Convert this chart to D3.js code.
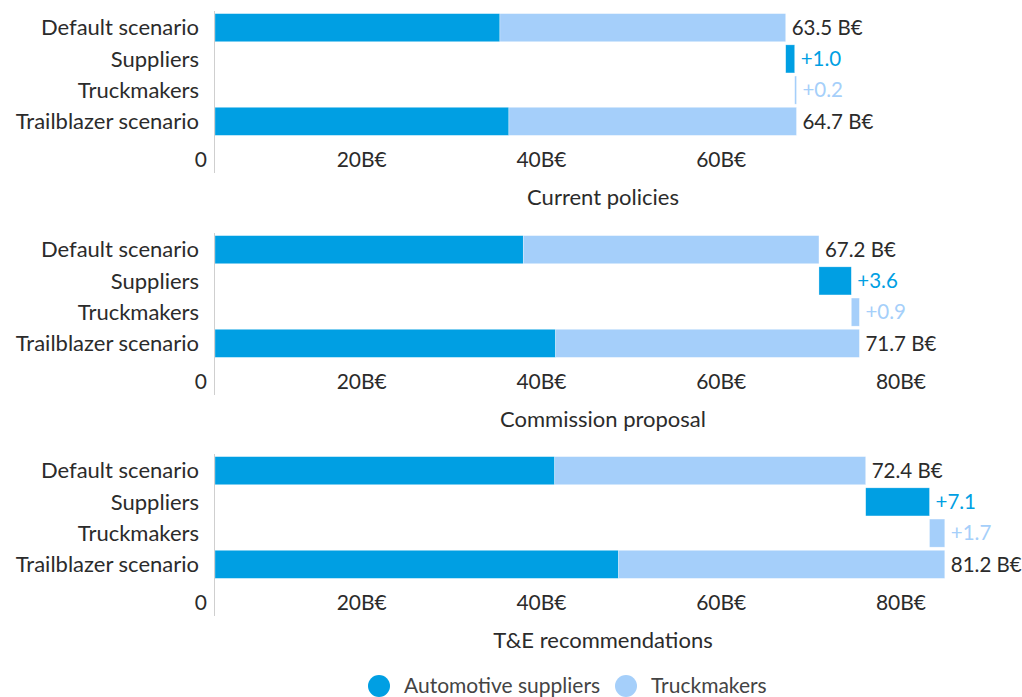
<!DOCTYPE html>
<html>
<head>
<meta charset="utf-8">
<script src="https://cdn.jsdelivr.net/npm/d3@7"></script>
<style>
  body { margin: 0; background: #fff; }
  svg text { font-family: "Lato", "Noto Sans", sans-serif; }
</style>
</head>
<body>
<div id="chart"></div>
<script>
// scenario data, billions of euro
var panels = ["Current policies", "Commission proposal", "T&E recommendations"];
var rows = ["Default scenario", "Suppliers", "Truckmakers", "Trailblazer scenario"];
var defaultAuto = [31.7, 34.3, 37.8];
var defaultTrucks = [31.8, 32.9, 34.6];
var supplierDelta = [1.0, 3.6, 7.1];
var truckDelta = [0.2, 0.9, 1.7];
var ticks = [0, 20, 40, 60, 80];
var tickMax = [60, 80, 80];
var seriesNames = ["Automotive suppliers", "Truckmakers"];

var dark = "#009fe3", light = "#a5cffa", ink = "#2b2b2b";

var W = 1022, H = 697;
var svg = d3.select("#chart").append("svg").attr("width", W).attr("height", H);

var x = d3.scaleLinear().domain([0, 80]).range([215, 934]);
var y = d3.scaleBand().domain(rows).range([13, 136]).paddingInner(0.1).paddingOuter(0.02);
var offsets = [0, 222, 443];

panels.forEach(function (title, i) {
    var g = svg.append("g").attr("transform", "translate(0," + offsets[i] + ")");
    var dA = defaultAuto[i], dT = defaultTrucks[i];
    var dTot = dA + dT;
    var tA = dA + supplierDelta[i], tT = dT + truckDelta[i];
    var tTot = tA + tT;

    var segs = [
        {row: rows[0], x0: 0, x1: dA, c: dark},
        {row: rows[0], x0: dA, x1: dTot, c: light},
        {row: rows[1], x0: dTot, x1: dTot + supplierDelta[i], c: dark},
        {row: rows[2], x0: dTot + supplierDelta[i], x1: tTot, c: light},
        {row: rows[3], x0: 0, x1: tA, c: dark},
        {row: rows[3], x0: tA, x1: tTot, c: light}
    ];

    g.selectAll(".bar").data(segs).enter().append("rect")
        .attr("class", "bar")
        .attr("x", d => x(d.x0))
        .attr("width", d => Math.max(1, x(d.x1) - x(d.x0)))
        .attr("y", d => y(d.row))
        .attr("height", y.bandwidth())
        .attr("fill", d => d.c)
        .attr("stroke", "#ffffff").attr("stroke-opacity", 0.5).attr("stroke-width", 0.6);

    // axis line
    g.append("line").attr("x1", 214.5).attr("x2", 214.5).attr("y1", 11).attr("y2", 173)
        .attr("stroke", "#cfcfcf").attr("stroke-width", 1);

    // row labels
    g.selectAll(".rowlab").data(rows).enter().append("text")
        .attr("x", 199).attr("y", d => y(d) + y.bandwidth() / 2)
        .attr("dy", "0.35em").attr("text-anchor", "end")
        .attr("font-size", 22).attr("fill", ink).text(d => d);

    // value labels
    var labs = [
        {row: rows[0], v: dTot, t: d3.format(".1f")(dTot) + " B€", c: ink},
        {row: rows[1], v: dTot + supplierDelta[i], t: "+" + d3.format(".1f")(supplierDelta[i]), c: dark},
        {row: rows[2], v: tTot, t: "+" + d3.format(".1f")(truckDelta[i]), c: light},
        {row: rows[3], v: tTot, t: d3.format(".1f")(tTot) + " B€", c: ink}
    ];
    g.selectAll(".vlab").data(labs).enter().append("text")
        .attr("x", d => x(d.v) + 6).attr("y", d => y(d.row) + y.bandwidth() / 2)
        .attr("dy", "0.35em").attr("font-size", 20.5).attr("fill", d => d.c).text(d => d.t);

    // tick labels
    g.selectAll(".tick").data(ticks.filter(t => t <= tickMax[i])).enter().append("text")
        .attr("x", d => x(d) - 8).attr("y", 160).attr("dy", "0.35em")
        .attr("text-anchor", "end").attr("font-size", 21).attr("fill", ink)
        .text(d => d === 0 ? "0" : d + "B€");

    g.append("text").attr("x", 603).attr("y", 197).attr("dy", "0.35em")
        .attr("text-anchor", "middle").attr("font-size", 22).attr("fill", ink).text(title);
});

// legend
var leg = svg.append("g");
var legX = [379, 626];
seriesNames.forEach(function (n, i) {
    leg.append("circle").attr("cx", legX[i]).attr("cy", 686).attr("r", 11)
        .attr("fill", i === 0 ? dark : light);
    leg.append("text").attr("x", legX[i] + 25).attr("y", 686).attr("dy", "0.35em")
        .attr("font-size", 21).attr("fill", "#444").text(n);
});
</script>
</body>
</html>
